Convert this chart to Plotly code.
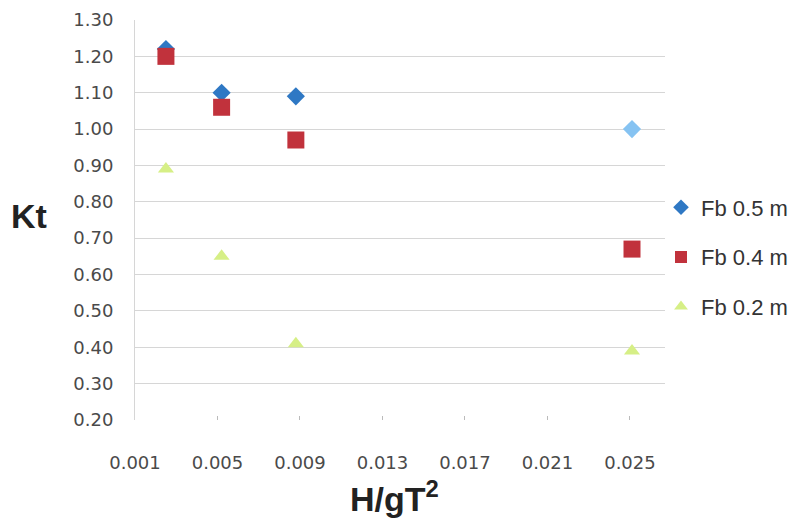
import plotly.graph_objects as go

# Wave steepness H/gT^2 and transmission coefficient Kt for three freeboards
steepness = [0.0025, 0.0052, 0.0088, 0.0251]
kt_fb05 = [1.22, 1.10, 1.09, 1.00]
kt_fb04 = [1.20, 1.06, 0.97, 0.67]
kt_fb02 = [0.89, 0.65, 0.41, 0.39]

series_names = ["Fb 0.5 m", "Fb 0.4 m", "Fb 0.2 m"]
x_ticks = [0.001, 0.005, 0.009, 0.013, 0.017, 0.021, 0.025]
y_ticks = [0.20, 0.30, 0.40, 0.50, 0.60, 0.70, 0.80, 0.90, 1.00, 1.10, 1.20, 1.30]

# plot-area geometry in pixels
W, H = 796, 522
L, R, T, B = 135, 131, 20, 102
PW, PH = W - L - R, H - T - B

fig = go.Figure()

fig.add_trace(go.Scatter(
    x=steepness, y=kt_fb05, mode="markers", name=series_names[0], legendgroup="a",
    marker=dict(symbol="diamond", size=14,
                color=["#2f78c4", "#2f78c4", "#2f78c4", "#86c3f2"],
                line=dict(width=0)),
))
fig.add_trace(go.Scatter(
    x=steepness, y=kt_fb04, mode="markers", name=series_names[1], legendgroup="b",
    marker=dict(symbol="square", size=17, color="#c1323c", line=dict(width=0)),
))
fig.add_trace(go.Scatter(
    x=steepness, y=kt_fb02, mode="markers", name=series_names[2], legendgroup="c",
    marker=dict(symbol="triangle-up", size=14, color="#d6ef86", line=dict(width=0)),
))

tick_font = dict(family="DejaVu Sans, sans-serif", size=18, color="#4a4a4a")
title_font = dict(family="Liberation Sans, Arial", size=34, color="#222222")


def px_x(p):
    return (p - L) / PW


def px_y(p):
    return 1 - (p - T) / PH


fig.update_layout(
    width=W, height=H,
    margin=dict(l=L, r=R, t=T, b=B, autoexpand=False),
    paper_bgcolor="white", plot_bgcolor="white",
    showlegend=True,
    legend=dict(x=px_x(661), y=px_y(257), xanchor="left", yanchor="middle",
                font=dict(family="Liberation Sans, Arial, sans-serif", size=22, color="#333333"),
                itemsizing="constant", tracegroupgap=18, itemwidth=30,
                bgcolor="rgba(0,0,0,0)"),
    xaxis=dict(
        range=[0.001, 0.0267], tickvals=x_ticks, tickformat=".3f",
        tickfont=tick_font, showgrid=False, zeroline=False,
        showline=False, ticks="inside", ticklen=4, tickcolor="#bbbbbb",
        ticklabelstandoff=30,
    ),
    yaxis=dict(
        range=[0.20, 1.30], tickvals=y_ticks, tickformat=".2f",
        tickfont=tick_font, showgrid=True, gridcolor="#d6d6d6", gridwidth=1,
        zeroline=False, showline=True, linecolor="#d6d6d6", linewidth=1,
        ticks="", ticklabelstandoff=17,
    ),
    annotations=[
        dict(text="<b>Kt</b>", x=px_x(29), y=px_y(216), xref="paper", yref="paper",
             xanchor="center", yanchor="middle", showarrow=False, font=title_font),
        dict(text="<b>H/gT<sup>2</sup></b>", x=px_x(394), y=px_y(496), xref="paper", yref="paper",
             xanchor="center", yanchor="middle", showarrow=False, font=title_font),
    ],
)

fig.write_html("out.html")
